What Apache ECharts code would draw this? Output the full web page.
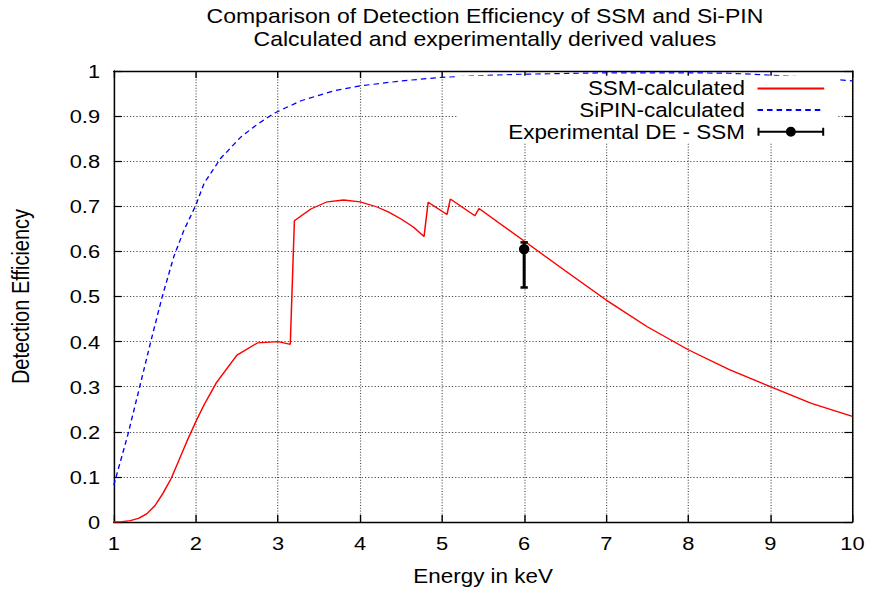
<!DOCTYPE html>
<html>
<head>
<meta charset="utf-8">
<script src="https://cdn.jsdelivr.net/npm/echarts@6/dist/echarts.min.js"></script>
<style>
html,body{margin:0;padding:0;background:#fff;overflow:hidden;}
#chart{width:755.65px;height:591px;transform:scaleX(1.15);transform-origin:0 0;}
</style>
</head>
<body>
<div id="chart"></div>
<script>
// ---- data ----
const ssmEnergy = [1.0,1.1,1.2,1.3,1.4,1.5,1.6,1.7,1.8,1.9,2.0,2.1,2.25,2.5,2.75,3.0,3.15,3.2,3.4,3.6,3.8,4.0,4.2,4.35,4.5,4.65,4.78,4.83,5.06,5.1,5.4,5.45,6.0,6.5,7.0,7.5,8.0,8.5,9.0,9.5,10.0];
const ssmEff    = [0.000,0.001,0.003,0.008,0.018,0.036,0.064,0.097,0.140,0.183,0.223,0.260,0.309,0.370,0.397,0.400,0.394,0.668,0.694,0.710,0.714,0.710,0.699,0.687,0.672,0.654,0.633,0.709,0.682,0.716,0.679,0.695,0.623,0.557,0.492,0.433,0.382,0.338,0.300,0.263,0.234];
const sipinEnergy = [1.0,1.17,1.31,1.45,1.59,1.73,1.85,2.0,2.1,2.3,2.55,2.75,2.95,3.28,3.68,4.0,4.5,5.0,5.5,6.0,7.0,8.0,8.5,9.0,9.5,10.0];
const sipinEff    = [0.082,0.193,0.296,0.400,0.500,0.588,0.645,0.703,0.751,0.806,0.854,0.882,0.906,0.934,0.956,0.967,0.978,0.986,0.990,0.993,0.996,0.996,0.995,0.991,0.986,0.978];
// experimental point: [energy, value, lower, upper]
const expPoint = [6.0, 0.605, 0.52, 0.62];
const seriesNames = ['SSM-calculated', 'SiPIN-calculated', 'Experimental DE - SSM'];
const titleLines = ['Comparison of Detection Efficiency of SSM and Si-PIN', 'Calculated and experimentally derived values'];
const xAxisName = 'Energy in keV';
const yAxisName = 'Detection Efficiency';

// ---- layout ----
const SX = 1.15; // horizontal stretch of the reference
const FONT = "'Liberation Sans', Arial, Helvetica, sans-serif";
const zip = (a, b) => a.map((v, i) => [v, b[i]]);

const errIcon = 'path://M0,4 H58 V6 H0 Z M0,1 H1.75 V9 H0 Z M56.25,1 H58 V9 H56.25 Z M24.65,5 A4.35,5 0 1 1 33.35,5 A4.35,5 0 1 1 24.65,5 Z';
const hiddenSymbol = {color: 'rgba(0,0,0,0)', opacity: 0, borderWidth: 0};

const chart = echarts.init(document.getElementById('chart'), null, {renderer: 'svg'});

const axisCommon = {
  type: 'value',
  axisLine: {show: true, onZero: false, lineStyle: {color: '#000', width: 1.3}},
  axisTick: {show: true, inside: true, length: 7, lineStyle: {color: '#000', width: 1.2}},
};

const option = {
  animation: false,
  backgroundColor: '#fff',
  textStyle: {fontFamily: FONT},
  title: {
    text: titleLines.join('\n'),
    left: 421.7, top: 5, padding: 0,
    textAlign: 'center',
    textStyle: {fontFamily: FONT, fontSize: 20, fontWeight: 'normal', color: '#000', lineHeight: 22.5}
  },
  grid: {left: 98.26, right: 14.78, top: 71, bottom: 69, containLabel: false},
  legend: {
    orient: 'vertical', align: 'right',
    right: 27.8, top: 75.7,
    padding: [2, 10.5, 0.5, 44],
    backgroundColor: '#fff',
    itemWidth: 58, itemHeight: 10, itemGap: 0,
    selectedMode: false,
    textStyle: {fontFamily: FONT, fontSize: 19.5, color: '#000', lineHeight: 21.6, padding: [0, 6, 0, 0]},
    data: [
      {name: seriesNames[0], itemStyle: hiddenSymbol},
      {name: seriesNames[1], itemStyle: hiddenSymbol},
      {name: seriesNames[2], icon: errIcon, itemStyle: {color: '#000'}}
    ]
  },
  xAxis: [
    Object.assign({}, axisCommon, {
      min: 1, max: 10, interval: 1, position: 'bottom',
      name: xAxisName, nameLocation: 'middle', nameGap: 44,
      nameTextStyle: {fontFamily: FONT, fontSize: 19.5, color: '#000'},
      axisLabel: {show: true, margin: 12, color: '#000', fontFamily: FONT, fontSize: 19},
      splitLine: {show: true, lineStyle: {color: '#444', width: 1, type: [1, 1.8]}}
    }),
    Object.assign({}, axisCommon, {
      min: 1, max: 10, interval: 1, position: 'top',
      axisLabel: {show: false}, splitLine: {show: false}
    })
  ],
  yAxis: [
    Object.assign({}, axisCommon, {
      min: 0, max: 1, interval: 0.1, position: 'left',
      name: yAxisName, nameLocation: 'middle', nameGap: 71,
      nameTextStyle: {fontFamily: FONT, fontSize: 20, color: '#000'},
      axisLabel: {show: true, margin: 12, color: '#000', fontFamily: FONT, fontSize: 19},
      splitLine: {show: true, lineStyle: {color: '#444', width: 1, type: [1, 1.8]}}
    }),
    Object.assign({}, axisCommon, {
      min: 0, max: 1, interval: 0.1, position: 'right',
      axisLabel: {show: false}, splitLine: {show: false}
    })
  ],
  series: [
    {
      name: seriesNames[0], type: 'line', data: zip(ssmEnergy, ssmEff),
      symbol: 'none', smooth: false, z: 3,
      lineStyle: {color: '#ff0000', width: 1.3},
      itemStyle: {color: '#ff0000'}
    },
    {
      name: seriesNames[1], type: 'line', data: zip(sipinEnergy, sipinEff),
      symbol: 'none', smooth: false, z: 3,
      lineStyle: {color: '#0000ff', width: 1.2, type: [4.8, 3.5]},
      itemStyle: {color: '#0000ff'}
    },
    {
      name: seriesNames[2], type: 'custom', z: 4,
      itemStyle: {color: '#000'},
      encode: {x: 0, y: 1},
      data: [expPoint],
      renderItem: function (params, api) {
        const x = api.value(0), y = api.value(1), lo = api.value(2), hi = api.value(3);
        const p = api.coord([x, y]);
        const pl = api.coord([x, lo]);
        const ph = api.coord([x, hi]);
        const cw = 3.2;
        const st = {stroke: '#000', lineWidth: 2.5};
        return {
          type: 'group',
          children: [
            {type: 'line', shape: {x1: pl[0], y1: pl[1], x2: ph[0], y2: ph[1]}, style: {stroke: '#000', lineWidth: 2.6}},
            {type: 'line', shape: {x1: pl[0] - cw, y1: pl[1], x2: pl[0] + cw, y2: pl[1]}, style: st},
            {type: 'line', shape: {x1: ph[0] - cw, y1: ph[1], x2: ph[0] + cw, y2: ph[1]}, style: st},
            {type: 'circle', x: p[0], y: p[1], scaleX: 1 / SX, shape: {cx: 0, cy: 0, r: 5.2}, style: {fill: '#000'}}
          ]
        };
      }
    }
  ]
};
chart.setOption(option);
</script>
</body>
</html>
